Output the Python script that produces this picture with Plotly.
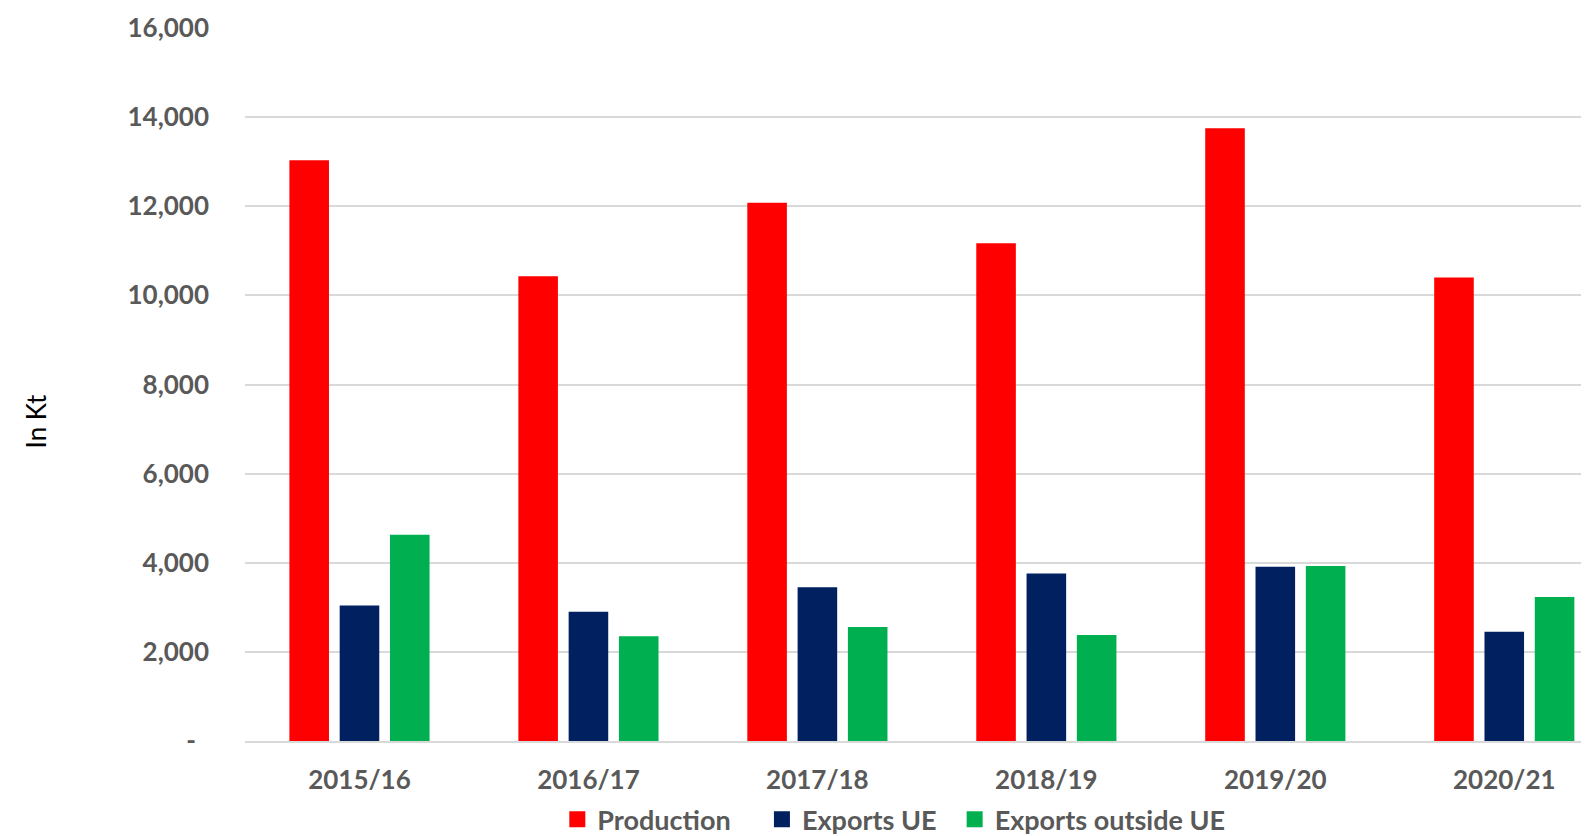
import plotly.graph_objects as go

categories = ["2015/16", "2016/17", "2017/18", "2018/19", "2019/20", "2020/21"]
production = [13030, 10430, 12080, 11170, 13750, 10400]
exports_ue = [3040, 2900, 3450, 3760, 3910, 2450]
exports_outside_ue = [4630, 2350, 2560, 2380, 3925, 3230]

y_tickvals = [0, 2000, 4000, 6000, 8000, 10000, 12000, 14000, 16000]
y_ticktext = ["-\u2002", "2,000", "4,000", "6,000", "8,000", "10,000", "12,000", "14,000", "16,000"]

series_names = ["Production", "Exports UE", "Exports outside UE"]
colors = ["#FF0000", "#002060", "#00B050"]
legend_pads = ["\u00a0" * 4, "\u00a0" * 2, ""]

FONT = "Lato"
GRAY = "#595959"

fig = go.Figure()
for name, vals, col, pad in zip(series_names, [production, exports_ue, exports_outside_ue], colors, legend_pads):
    fig.add_trace(go.Bar(
        x=categories, y=vals, name=name,
        marker=dict(color=col, line=dict(width=0)),
        legendgroup=name, showlegend=False,
        hovertemplate=name + ": %{y:,}<extra>%{x}</extra>",
    ))
    # legend proxy (larger square symbol)
    fig.add_trace(go.Scatter(
        x=[None], y=[None], mode="markers", name=name + pad,
        marker=dict(symbol="square", size=16, color=col),
        legendgroup=name, showlegend=True, hoverinfo="skip",
    ))

fig.update_layout(
    width=1589, height=836,
    paper_bgcolor="white", plot_bgcolor="white",
    barmode="group", bargap=0.341, bargroupgap=0.213,
    margin=dict(l=237, r=0, t=20, b=103, autoexpand=False),
    font=dict(family=FONT, color=GRAY),
    showlegend=True,
    legend=dict(
        orientation="h", x=0.231, xanchor="left", y=-0.1104, yanchor="middle",
        font=dict(family=FONT, size=27, color=GRAY, weight="bold"),
        itemsizing="trace", itemclick=False, itemdoubleclick=False,
        traceorder="normal",
    ),
    xaxis=dict(
        type="category",
        range=[-0.5, 5.405],
        showgrid=False,
        showline=True, linecolor="#D9D9D9", linewidth=2,
        ticks="", ticklabelstandoff=15,
        tickfont=dict(family=FONT, size=26, color=GRAY, weight="bold"),
        automargin=False,
    ),
    yaxis=dict(
        range=[0, 16000],
        tickvals=y_tickvals, ticktext=y_ticktext,
        showgrid=True, gridcolor="#D9D9D9", gridwidth=1.5,
        zeroline=False, showline=False,
        ticks="", ticklabelstandoff=35,
        tickfont=dict(family=FONT, size=26, color=GRAY, weight="bold"),
        automargin=False,
    ),
    annotations=[dict(
        text="In Kt", textangle=-90,
        xref="paper", yref="paper", x=-0.1549, y=0.449,
        xanchor="center", yanchor="middle", showarrow=False,
        font=dict(family=FONT, size=26, color="#000000"),
    )],
)

fig.write_html("out.html")
